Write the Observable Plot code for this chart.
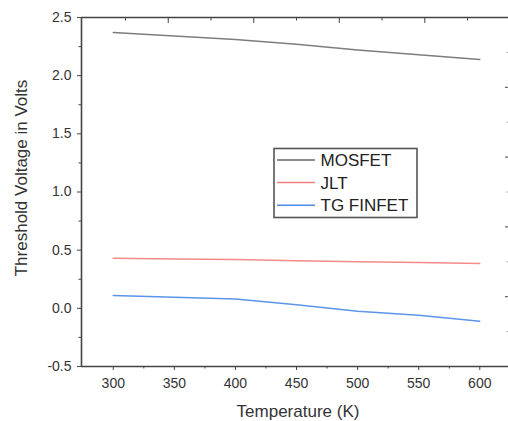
<!DOCTYPE html>
<html><head><meta charset="utf-8">
<script src="https://cdn.jsdelivr.net/npm/d3@7"></script>
<script src="https://cdn.jsdelivr.net/npm/@observablehq/plot@0.6"></script>
<style>body{margin:0;background:#fff}</style>
</head><body><div id="chart"></div>
<script>
const temperature = [300, 350, 400, 450, 500, 550, 600];
const mosfet = [2.37, 2.34, 2.31, 2.27, 2.22, 2.18, 2.14];
const jlt = [0.43, 0.425, 0.42, 0.41, 0.40, 0.395, 0.385];
const tgFinfet = [0.11, 0.095, 0.08, 0.03, -0.025, -0.06, -0.11];
const seriesNames = ["MOSFET", "JLT", "TG FINFET"];
const seriesColors = ["#7d7d7d", "#f28a8a", "#5b95ea"];
const legendColors = ["#666666", "#f27f7f", "#4d8be8"];
const xTicks = [300, 350, 400, 450, 500, 550, 600];
const xMinorTicks = [325, 375, 425, 475, 525, 575];
const yTicks = [-0.5, 0, 0.5, 1, 1.5, 2, 2.5];
const yMinorTicks = [-0.25, 0.25, 0.75, 1.25, 1.75, 2.25];
const topTicks = [345, 415, 485, 555];
const topMinorTicks = [310, 380, 450, 520, 590];
const rightTicks = [1.9, 1.3, 0.7, 0.1];
const rightMinorTicks = [2.2, 1.6, 1.0, 0.4, -0.2];
const xDomain = [274, 623.5];
const yDomain = [-0.5, 2.5];
const xTitle = "Temperature (K)";
const yTitle = "Threshold Voltage in Volts";

const seriesValues = [mosfet, jlt, tgFinfet];
const data = seriesNames.flatMap((name, i) =>
  temperature.map((t, j) => ({series: name, t, v: seriesValues[i][j]})));

const font = "Liberation Sans, Arial, Helvetica, sans-serif";
const axisColor = "#444";

const chart = Plot.plot({
  width: 508,
  height: 421,
  marginLeft: 81,
  marginRight: 0,
  marginTop: 17,
  marginBottom: 55,
  style: {fontFamily: font, background: "#fff", color: "#333"},
  x: {domain: xDomain},
  y: {domain: yDomain},
  color: {domain: seriesNames, range: seriesColors},
  marks: [
    Plot.ruleX([xDomain[0]], {stroke: axisColor, strokeWidth: 1.6}),
    Plot.ruleY([yDomain[0], yDomain[1]], {stroke: axisColor, strokeWidth: 1.6}),
    Plot.line(data, {x: "t", y: "v", z: "series", stroke: "series", strokeWidth: 1.5}),
    Plot.axisX(xTicks, {anchor: "bottom", tickSize: 4, tickPadding: 8, fontSize: 14, stroke: axisColor, fill: "#333", label: null, tickFormat: d => String(d)}),
    Plot.axisX(xMinorTicks, {anchor: "bottom", tickSize: 2.5, text: null, stroke: axisColor, label: null}),
    Plot.axisY(yTicks, {anchor: "left", tickSize: 4, tickPadding: 6, fontSize: 14, stroke: axisColor, fill: "#333", label: null, tickFormat: d => d.toFixed(1)}),
    Plot.axisY(yMinorTicks, {anchor: "left", tickSize: 2.5, text: null, stroke: axisColor, label: null}),
    Plot.axisX(topTicks, {anchor: "top", tickSize: -5, text: null, stroke: axisColor, label: null}),
    Plot.axisX(topMinorTicks, {anchor: "top", tickSize: -2.5, text: null, stroke: axisColor, label: null}),
    Plot.axisY(rightTicks, {anchor: "right", tickSize: -4, text: null, stroke: axisColor, label: null}),
    Plot.axisY(rightMinorTicks, {anchor: "right", tickSize: -2.5, text: null, stroke: "#999", label: null}),
    Plot.text([xTitle], {text: d => d, frameAnchor: "bottom", textAnchor: "middle", lineAnchor: "bottom", dy: 50.5, dx: 3, fontSize: 17, fill: "#333"}),
    Plot.text([yTitle], {text: d => d, frameAnchor: "left", textAnchor: "middle", rotate: -90, lineAnchor: "middle", dx: -60, dy: -14, fontSize: 17, fill: "#333"})
  ]
});

document.getElementById("chart").appendChild(chart);

// Legend (inside the plot area, upper middle)
const svg = d3.select(chart);
const lg = svg.append("g").attr("font-family", font).attr("text-anchor", "start");
lg.append("rect").attr("x", 274).attr("y", 148.5).attr("width", 143).attr("height", 69)
  .attr("fill", "#fff").attr("stroke", "#555").attr("stroke-width", 1.6);
seriesNames.forEach((name, i) => {
  const cy = 160 + i * 22.6;
  lg.append("line").attr("x1", 277).attr("x2", 315).attr("y1", cy).attr("y2", cy)
    .attr("stroke", legendColors[i]).attr("stroke-width", 1.5);
  lg.append("text").attr("x", 320.5).attr("y", cy + 6).attr("font-size", 17)
    .attr("text-anchor", "start").attr("fill", "#222").text(name);
});
</script>
</body></html>
